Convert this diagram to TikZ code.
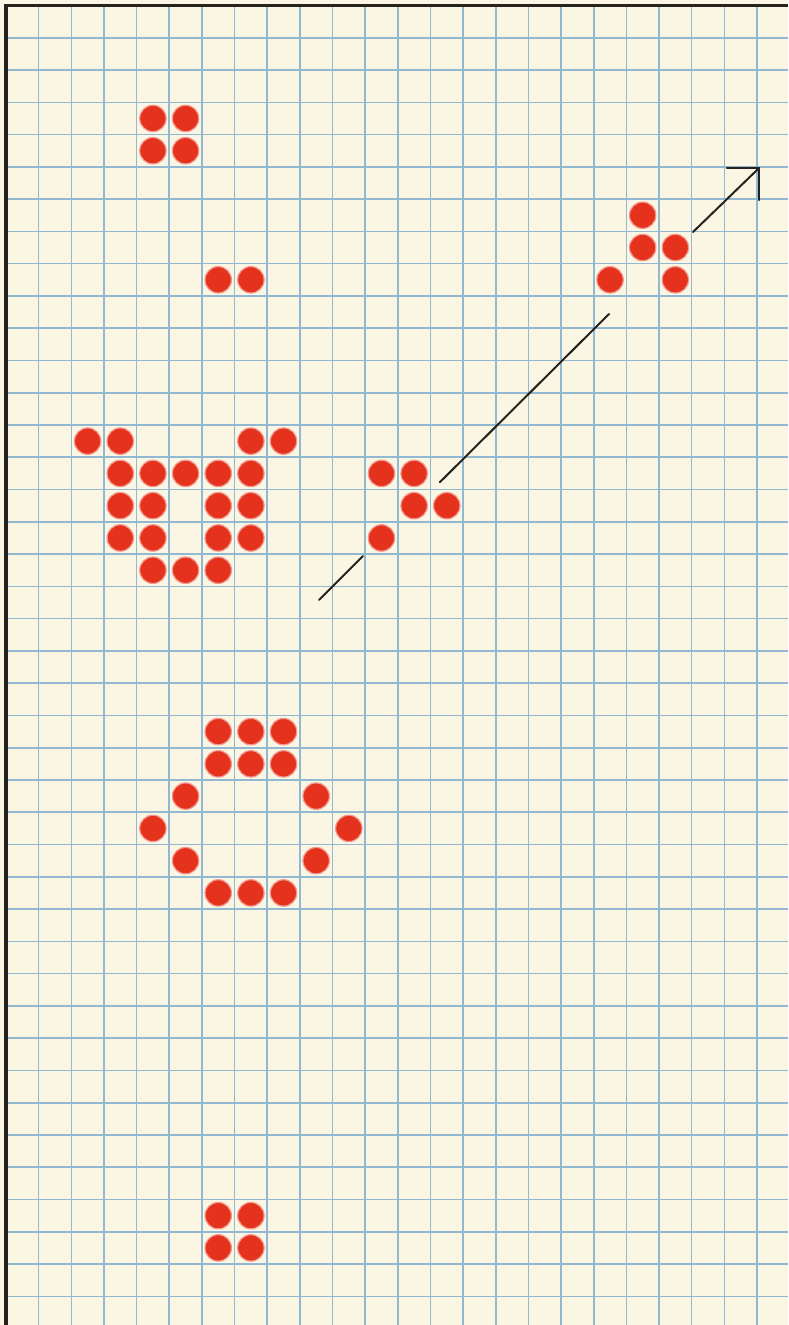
\documentclass[tikz,border=0pt]{standalone}
\definecolor{paper}{RGB}{251,245,228}
\definecolor{gridblue}{RGB}{145,186,210}
\definecolor{dotred}{RGB}{228,50,28}
\definecolor{ink}{RGB}{38,34,30}
\begin{document}
\begin{tikzpicture}[x=16.325pt,y=-16.135pt,
  cell/.style={circle,fill=dotred,draw=dotred!50!white,line width=0.6pt,minimum size=13.2pt,inner sep=0pt},
  gridline/.style={gridblue,line width=0.8pt},
  border/.style={ink,line width=1.6pt},
  trackline/.style={ink,line width=1pt,line cap=round}]
\fill[paper] (-0.1838,-0.1704) rectangle (23.951,40.889);
\useasboundingbox (-0.1838,-0.1704) rectangle (23.951,40.889);
\foreach \i in {1,...,23} \draw[gridline] (\i,0) -- (\i,40.889);
\foreach \j in {1,...,40} \draw[gridline] (0,\j) -- (23.951,\j);
\draw[border] (0,40.889) -- (0,0) -- (23.951,0);
% live cells
\foreach \c/\r in {4/3,5/3,4/4,5/4,
  6/8,7/8,
  2/13,3/13,7/13,8/13,
  3/14,4/14,5/14,6/14,7/14,
  3/15,4/15,6/15,7/15,
  3/16,4/16,6/16,7/16,
  4/17,5/17,6/17,
  11/14,12/14,12/15,13/15,11/16,
  19/6,19/7,20/7,18/8,20/8,
  6/22,7/22,8/22,6/23,7/23,8/23,
  5/24,9/24,4/25,10/25,5/26,9/26,
  6/27,7/27,8/27,
  6/37,7/37,6/38,7/38}
  \node[cell] (d-\c-\r) at (\c+0.5,\r+0.5) {};
% direction of travel
\coordinate (a0) at (9.587,18.42);
\coordinate (a1) at (10.934,17.06);
\coordinate (a2) at (13.29,14.77);
\coordinate (a3) at (18.47,9.56);
\coordinate (a4) at (21.04,7.02);
\coordinate (tip) at (23.06,5.04);
\coordinate (hl) at (22.08,5.04);
\coordinate (hd) at (23.06,6.03);
\draw[trackline] (a0) -- (a1);
\draw[trackline] (a2) -- (a3);
\draw[trackline] (a4) -- (tip);
\draw[trackline,line join=miter] (hl) -- (tip) -- (hd);
\end{tikzpicture}
\end{document}
